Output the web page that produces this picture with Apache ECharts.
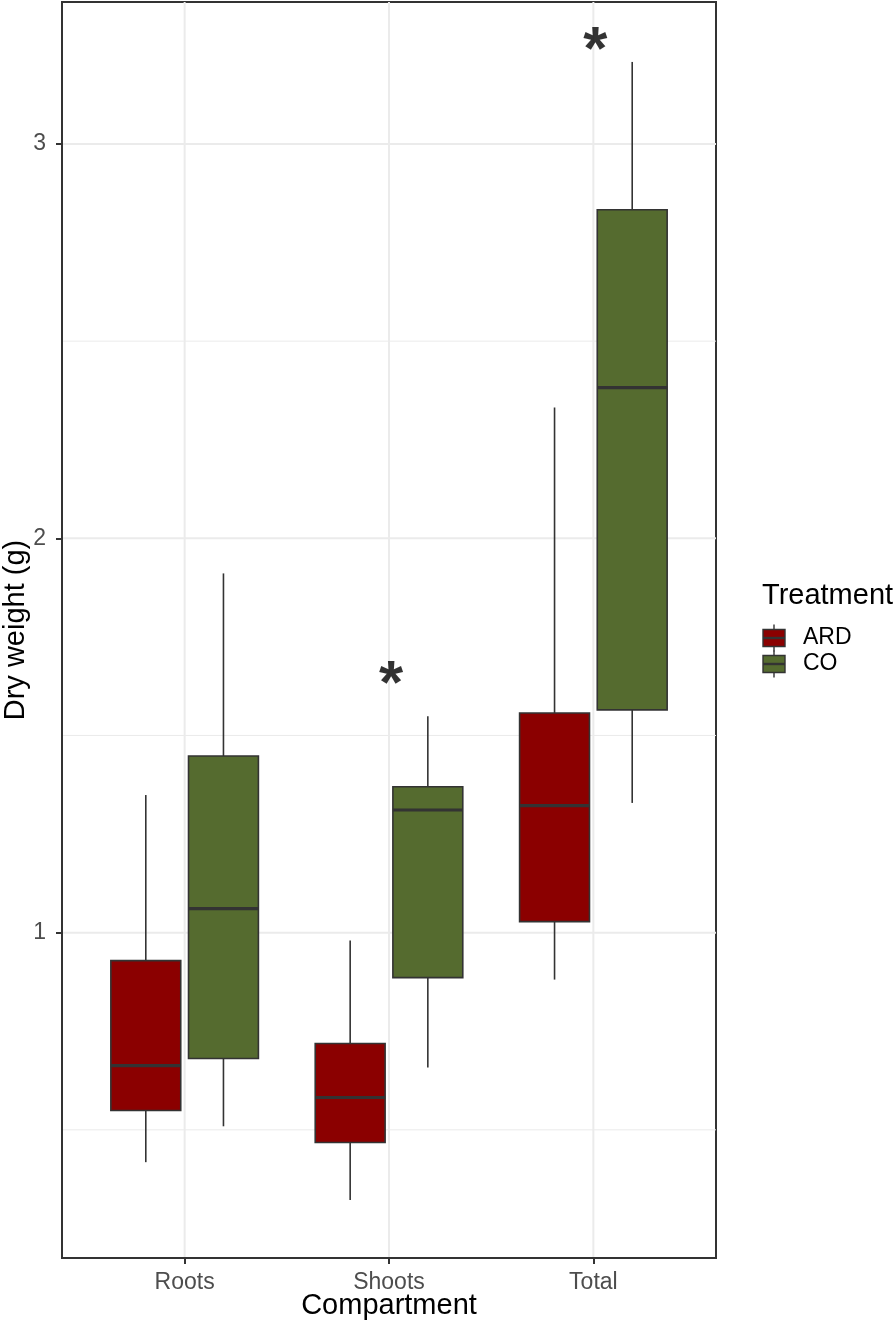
<!DOCTYPE html>
<html><head><meta charset="utf-8">
<script src="https://cdn.jsdelivr.net/npm/echarts@6/dist/echarts.min.js"></script>
<style>html,body{margin:0;padding:0;background:#fff}#c{width:894px;height:1330px}</style>
</head><body><div id="c"></div>
<script>
const categories = ['Roots', 'Shoots', 'Total'];
const treatments = ['ARD', 'CO'];
// [min, Q1, median, Q3, max]
const ardStats = [
  [0.418, 0.549, 0.663, 0.929, 1.349],
  [0.322, 0.468, 0.582, 0.719, 0.980],
  [0.881, 1.028, 1.322, 1.557, 2.332]
];
const coStats = [
  [0.509, 0.681, 1.061, 1.448, 1.911],
  [0.658, 0.886, 1.311, 1.370, 1.549],
  [1.329, 1.565, 2.382, 2.833, 3.208]
];
const sigCategories = ['Shoots', 'Total'];
const sigY = [1.651, 3.258];
const yTicks = [1, 2, 3];
const yMinor = [0.5, 1.5, 2.5];
const colors = {ARD: '#8B0000', CO: '#556B2F'};

const dodge = 0.19, boxW = 0.342;
function boxData(stats, off) {
  return stats.map((s, i) => [i + 1 + off].concat(s));
}
function renderBox(color) {
  return function (params, api) {
    const x = api.value(0);
    const pMin = api.coord([x, api.value(1)]);
    const pQ1 = api.coord([x, api.value(2)]);
    const pMed = api.coord([x, api.value(3)]);
    const pQ3 = api.coord([x, api.value(4)]);
    const pMax = api.coord([x, api.value(5)]);
    const w = api.size([boxW, 0])[0];
    const cx = pMed[0];
    const stroke = '#333333';
    return {
      type: 'group',
      children: [
        {type: 'line', shape: {x1: cx, y1: pMax[1], x2: cx, y2: pQ3[1]}, style: {stroke, lineWidth: 1.6}},
        {type: 'line', shape: {x1: cx, y1: pQ1[1], x2: cx, y2: pMin[1]}, style: {stroke, lineWidth: 1.6}},
        {type: 'rect', shape: {x: cx - w / 2, y: pQ3[1], width: w, height: pQ1[1] - pQ3[1]}, style: {fill: color, stroke, lineWidth: 1.6}},
        {type: 'line', shape: {x1: cx - w / 2, y1: pMed[1], x2: cx + w / 2, y2: pMed[1]}, style: {stroke, lineWidth: 3.2}}
      ]
    };
  };
}

// grid line items: [isVertical, value, width]
const gridItems = [];
yTicks.forEach(v => gridItems.push([0, v, 2]));
yMinor.forEach(v => gridItems.push([0, v, 1]));
categories.forEach((c, i) => gridItems.push([1, i + 1, 2]));
function renderGrid(params, api) {
  const cs = params.coordSys;
  const vert = api.value(0), v = api.value(1), lw = api.value(2);
  let shape;
  if (vert) {
    const p = api.coord([v, 1]);
    shape = {x1: p[0], y1: cs.y, x2: p[0], y2: cs.y + cs.height};
  } else {
    const p = api.coord([1, v]);
    shape = {x1: cs.x, y1: p[1], x2: cs.x + cs.width, y2: p[1]};
  }
  return {type: 'line', shape, style: {stroke: '#ebebeb', lineWidth: lw}};
}

const chart = echarts.init(document.getElementById('c'), null, {renderer: 'canvas'});
const font = 'Liberation Sans, Arial, sans-serif';
function legendKey(y, color, label) {
  const x = 763, w = 22, h = 17;
  return [
    {type: 'line', shape: {x1: x + w / 2, y1: y - h / 2 - 5, x2: x + w / 2, y2: y + h / 2 + 5}, style: {stroke: '#333', lineWidth: 1.4}},
    {type: 'rect', shape: {x: x, y: y - h / 2, width: w, height: h}, style: {fill: color, stroke: '#333', lineWidth: 1.4}},
    {type: 'line', shape: {x1: x, y1: y, x2: x + w, y2: y}, style: {stroke: '#333', lineWidth: 2.4}},
    {type: 'text', x: 803, y: y, style: {text: label, fontSize: 23, fontFamily: font, fill: '#000', verticalAlign: 'middle', align: 'left'}}
  ];
}

chart.setOption({
  animation: false,
  backgroundColor: '#fff',
  grid: {left: 62, right: 178, top: 2, bottom: 72, containLabel: false, outerBoundsMode: 'none',
    show: true, borderColor: '#333333', borderWidth: 2, backgroundColor: 'transparent'},
  xAxis: {
    type: 'value', min: 0.4, max: 3.6,
    name: 'Compartment', nameLocation: 'middle', nameGap: 33, nameMoveOverlap: false,
    nameTextStyle: {fontSize: 29, fontFamily: font, color: '#000'},
    axisLine: {show: true, lineStyle: {color: '#333333', width: 2}},
    axisTick: {show: true, length: 6, lineStyle: {color: '#333333', width: 2}, customValues: [1, 2, 3]},
    axisLabel: {customValues: [1, 2, 3], formatter: v => categories[Math.round(v) - 1] || '', fontSize: 23, fontFamily: font, color: '#4d4d4d', margin: 13},
    splitLine: {show: false}
  },
  yAxis: {
    type: 'value', min: 0.175, max: 3.36,
    name: 'Dry weight (g)', nameLocation: 'middle', nameGap: 32, nameMoveOverlap: false,
    nameTextStyle: {fontSize: 29, fontFamily: font, color: '#000'},
    axisLine: {show: true, lineStyle: {color: '#333333', width: 2}},
    axisTick: {show: true, length: 6, lineStyle: {color: '#333333', width: 2}, customValues: yTicks},
    axisLabel: {customValues: yTicks, fontSize: 23, fontFamily: font, color: '#4d4d4d', margin: 16},
    splitLine: {show: false}
  },
  series: [
    {type: 'custom', z: 0, silent: true, renderItem: renderGrid, encode: {x: -1, y: -1}, data: gridItems, clip: false},
    {
      type: 'scatter', z: 1, symbolSize: 0,
      data: sigCategories.map((c, i) => [categories.indexOf(c) + 1, sigY[i]]),
      label: {show: true, position: 'inside', formatter: '*', fontSize: 62, fontWeight: 'bold', fontFamily: font, color: '#000', offset: [2, 10]},
      silent: true
    },
    {type: 'custom', name: 'ARD', z: 3, renderItem: renderBox(colors.ARD), encode: {x: 0, y: [1, 2, 3, 4, 5]}, data: boxData(ardStats, -dodge)},
    {type: 'custom', name: 'CO', z: 3, renderItem: renderBox(colors.CO), encode: {x: 0, y: [1, 2, 3, 4, 5]}, data: boxData(coStats, dodge)}
  ],
  graphic: [
    {type: 'text', x: 762, y: 596, style: {text: 'Treatment', fontSize: 29, fontFamily: font, fill: '#000', verticalAlign: 'middle'}}
  ].concat(legendKey(638, colors.ARD, 'ARD'), legendKey(664, colors.CO, 'CO'))
});
</script></body></html>
